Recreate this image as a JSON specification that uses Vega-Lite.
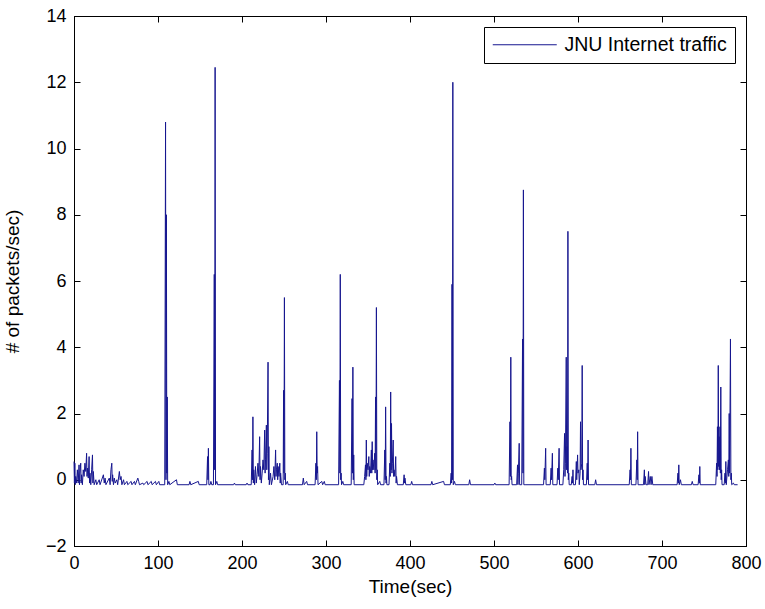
{
  "$schema": "https://vega.github.io/schema/vega-lite/v6.json",
  "width": 672,
  "height": 530,
  "autosize": {"type": "none"},
  "padding": {"left": 74, "top": 16, "right": 19, "bottom": 63},
  "background": "white",
  "config": {
    "view": {"stroke": "black", "strokeWidth": 1},
    "axis": {
      "grid": false,
      "domainColor": "black",
      "domainWidth": 1,
      "tickColor": "black",
      "tickWidth": 1,
      "tickSize": -6,
      "labelPadding": 14,
      "labelFlush": false,
      "labelColor": "black",
      "titleColor": "black",
      "labelFont": "Liberation Sans",
      "titleFont": "Liberation Sans",
      "labelFontSize": 18,
      "titleFontSize": 19,
      "titleFontWeight": "normal"
    }
  },
  "layer": [
    {
      "data": {"values": [
        {"t":0,"v":0.55},{"t":0.5,"v":-0.1},{"t":1,"v":0.5},{"t":1.5,"v":-0.15},{"t":2,"v":0.1},{"t":3,"v":-0.1},{"t":4,"v":0.3},{"t":5,"v":-0.1},{"t":6,"v":0.45},{"t":6.5,"v":-0.15},{"t":7,"v":0.2},{"t":8,"v":0.5},{"t":8.5,"v":-0.1},{"t":9,"v":0.15},{"t":10,"v":-0.15},{"t":11,"v":0.3},{"t":12,"v":0.1},{"t":13,"v":0.5},{"t":14,"v":0.25},{"t":15,"v":0.8},{"t":15.5,"v":0.1},{"t":16,"v":0.35},{"t":17,"v":0.05},{"t":18,"v":0.7},{"t":18.5,"v":-0.1},{"t":19,"v":0.2},{"t":20,"v":-0.15},{"t":21,"v":0.3},{"t":22,"v":0.75},{"t":22.5,"v":-0.1},{"t":23,"v":0.25},{"t":24,"v":-0.15},{"t":26,"v":0.0},{"t":27,"v":-0.15},{"t":30,"v":0.0},{"t":31,"v":-0.15},{"t":35,"v":0.15},{"t":36,"v":-0.1},{"t":37,"v":0.05},{"t":38,"v":-0.15},{"t":42,"v":0.05},{"t":43,"v":-0.15},{"t":44,"v":0.3},{"t":45,"v":0.5},{"t":45.5,"v":-0.05},{"t":46,"v":0.15},{"t":47,"v":-0.15},{"t":48,"v":0.05},{"t":49,"v":-0.1},{"t":51,"v":0.0},{"t":52,"v":-0.15},{"t":54,"v":0.25},{"t":55,"v":0.0},{"t":56,"v":0.1},{"t":57,"v":-0.15},{"t":59,"v":0.0},{"t":60,"v":-0.15},{"t":63,"v":-0.05},{"t":64,"v":-0.15},{"t":68,"v":-0.05},{"t":69,"v":-0.15},{"t":72,"v":-0.05},{"t":73,"v":-0.15},{"t":76,"v":0.05},{"t":77,"v":-0.05},{"t":78,"v":-0.15},{"t":82,"v":-0.1},{"t":83,"v":-0.15},{"t":87,"v":-0.05},{"t":88,"v":-0.15},{"t":92,"v":-0.05},{"t":93,"v":-0.15},{"t":97,"v":-0.05},{"t":98,"v":-0.15},{"t":101,"v":-0.05},{"t":102,"v":-0.15},
        {"t":108,"v":-0.15},{"t":109,"v":10.8},{"t":109.5,"v":0.0},{"t":110,"v":8.0},{"t":110.5,"v":0.2},{"t":111,"v":2.5},{"t":111.5,"v":-0.15},{"t":113,"v":-0.05},{"t":114,"v":-0.15},{"t":122,"v":0.0},{"t":123,"v":-0.15},{"t":137,"v":-0.15},{"t":138,"v":-0.05},{"t":139,"v":-0.15},{"t":148,"v":-0.05},{"t":149,"v":-0.15},
        {"t":158,"v":-0.15},{"t":159,"v":0.7},{"t":159.5,"v":0.0},{"t":160,"v":0.95},{"t":160.5,"v":-0.15},{"t":162,"v":-0.15},{"t":163,"v":-0.05},{"t":164,"v":-0.15},{"t":166,"v":-0.15},{"t":167,"v":6.2},{"t":167.5,"v":0.3},{"t":168,"v":12.45},{"t":168.5,"v":-0.15},{"t":170,"v":-0.05},{"t":171,"v":-0.15},{"t":190,"v":-0.15},{"t":191,"v":-0.1},{"t":192,"v":-0.15},{"t":205,"v":-0.15},{"t":206,"v":-0.1},{"t":207,"v":-0.15},
        {"t":211,"v":-0.15},{"t":212,"v":0.9},{"t":212.5,"v":0.0},{"t":213,"v":1.9},{"t":213.5,"v":-0.1},{"t":214,"v":0.3},{"t":215,"v":-0.15},{"t":216,"v":0.4},{"t":217,"v":-0.1},{"t":218,"v":0.15},{"t":219,"v":0.5},{"t":220,"v":0.1},{"t":221,"v":1.3},{"t":221.5,"v":0.0},{"t":222,"v":0.4},{"t":223,"v":-0.1},{"t":224,"v":0.2},{"t":225,"v":0.6},{"t":226,"v":0.3},{"t":227,"v":1.5},{"t":227.5,"v":0.2},{"t":228,"v":0.6},{"t":229,"v":1.65},{"t":229.5,"v":0.3},{"t":230,"v":0.8},{"t":231,"v":3.55},{"t":231.5,"v":0.0},{"t":232,"v":1.0},{"t":232.5,"v":-0.15},{"t":234,"v":0.2},{"t":235,"v":-0.15},{"t":237,"v":0.1},{"t":238,"v":0.4},{"t":239,"v":0.0},{"t":240,"v":0.9},{"t":240.5,"v":0.1},{"t":241,"v":0.3},{"t":242,"v":0.5},{"t":242.5,"v":0.0},{"t":243,"v":0.4},{"t":244,"v":0.1},{"t":245,"v":0.5},{"t":245.5,"v":-0.1},{"t":246,"v":0.2},{"t":247,"v":-0.15},{"t":249,"v":-0.15},{"t":249.5,"v":2.7},{"t":250,"v":0.2},{"t":250.5,"v":5.5},{"t":251,"v":0.0},{"t":251.5,"v":0.2},{"t":252,"v":-0.15},{"t":254,"v":-0.05},{"t":255,"v":-0.15},
        {"t":272,"v":-0.15},{"t":273,"v":0.05},{"t":274,"v":-0.15},{"t":277,"v":-0.05},{"t":278,"v":-0.15},{"t":287,"v":-0.15},{"t":288,"v":0.5},{"t":288.5,"v":0.0},{"t":289,"v":1.45},{"t":289.5,"v":0.2},{"t":290,"v":0.4},{"t":290.5,"v":-0.15},{"t":295,"v":-0.05},{"t":296,"v":-0.15},{"t":298,"v":-0.05},{"t":299,"v":-0.15},
        {"t":315,"v":-0.15},{"t":316,"v":3.0},{"t":316.5,"v":0.2},{"t":317,"v":6.2},{"t":317.5,"v":0.0},{"t":318,"v":0.2},{"t":318.5,"v":-0.15},{"t":320,"v":-0.05},{"t":321,"v":-0.15},{"t":330,"v":-0.15},{"t":331,"v":2.45},{"t":331.5,"v":0.2},{"t":332,"v":3.4},{"t":332.5,"v":0.0},{"t":333,"v":0.75},{"t":333.5,"v":-0.15},
        {"t":345,"v":-0.15},{"t":346,"v":0.1},{"t":347,"v":0.45},{"t":347.5,"v":0.0},{"t":348,"v":1.2},{"t":348.5,"v":0.1},{"t":349,"v":0.5},{"t":350,"v":0.3},{"t":351,"v":0.7},{"t":351.5,"v":0.1},{"t":352,"v":0.4},{"t":353,"v":0.2},{"t":354,"v":0.9},{"t":354.5,"v":0.2},{"t":355,"v":1.15},{"t":355.5,"v":0.3},{"t":356,"v":0.6},{"t":357,"v":0.3},{"t":358,"v":0.8},{"t":358.5,"v":0.2},{"t":359,"v":2.5},{"t":359.5,"v":0.3},{"t":360,"v":5.2},{"t":360.5,"v":0.0},{"t":361,"v":0.3},{"t":361.5,"v":-0.15},{"t":364,"v":-0.05},{"t":365,"v":-0.15},{"t":369,"v":-0.15},{"t":370,"v":0.9},{"t":370.5,"v":0.0},{"t":371,"v":2.2},{"t":371.5,"v":-0.1},{"t":372,"v":0.1},{"t":372.5,"v":-0.15},{"t":375,"v":-0.15},{"t":376,"v":0.5},{"t":376.5,"v":0.1},{"t":377,"v":2.65},{"t":377.5,"v":0.3},{"t":378,"v":1.7},{"t":378.5,"v":0.2},{"t":379,"v":0.5},{"t":380,"v":1.2},{"t":380.5,"v":0.1},{"t":381,"v":0.3},{"t":382,"v":0.1},{"t":383,"v":0.7},{"t":383.5,"v":-0.1},{"t":384,"v":0.1},{"t":385,"v":-0.15},{"t":392,"v":-0.15},{"t":393,"v":0.15},{"t":393.5,"v":-0.1},{"t":394,"v":0.05},{"t":395,"v":-0.15},{"t":401,"v":-0.15},{"t":402,"v":-0.05},{"t":403,"v":-0.15},
        {"t":425,"v":-0.15},{"t":426,"v":-0.05},{"t":427,"v":-0.15},{"t":440,"v":-0.05},{"t":441,"v":-0.15},{"t":448,"v":-0.15},{"t":449,"v":0.2},{"t":449.5,"v":-0.1},{"t":450,"v":5.9},{"t":450.5,"v":0.0},{"t":451,"v":12.0},{"t":451.5,"v":-0.15},{"t":453,"v":-0.05},{"t":454,"v":-0.15},{"t":470,"v":-0.15},{"t":471,"v":0.0},{"t":472,"v":-0.15},{"t":500,"v":-0.15},{"t":501,"v":-0.1},{"t":502,"v":-0.15},
        {"t":518,"v":-0.15},{"t":519,"v":1.75},{"t":519.5,"v":0.1},{"t":520,"v":3.7},{"t":520.5,"v":0.0},{"t":521,"v":0.1},{"t":521.5,"v":-0.15},{"t":527,"v":-0.15},{"t":528,"v":0.45},{"t":528.5,"v":-0.15},{"t":529,"v":0.2},{"t":530,"v":1.1},{"t":530.5,"v":-0.15},{"t":533,"v":-0.15},{"t":534,"v":4.25},{"t":534.5,"v":0.2},{"t":535,"v":8.75},{"t":535.5,"v":-0.15},{"t":537,"v":-0.15},
        {"t":559,"v":-0.15},{"t":560,"v":0.35},{"t":560.5,"v":0.0},{"t":561.5,"v":0.95},{"t":562,"v":-0.15},{"t":567,"v":-0.15},{"t":568,"v":0.35},{"t":568.5,"v":0.0},{"t":569.5,"v":0.8},{"t":570,"v":-0.15},{"t":575,"v":-0.15},{"t":576,"v":0.35},{"t":576.5,"v":0.0},{"t":577.5,"v":0.95},{"t":578,"v":-0.15},{"t":582,"v":-0.15},{"t":583,"v":0.3},{"t":584,"v":1.4},{"t":584.5,"v":0.1},{"t":585,"v":0.5},{"t":586,"v":3.7},{"t":586.5,"v":0.3},{"t":587,"v":1.0},{"t":587.5,"v":0.2},{"t":588,"v":7.5},{"t":588.5,"v":0.0},{"t":589,"v":0.2},{"t":589.5,"v":-0.15},{"t":592,"v":-0.15},{"t":593,"v":0.1},{"t":593.5,"v":-0.1},{"t":594,"v":0.3},{"t":594.5,"v":-0.15},{"t":597,"v":-0.15},{"t":598,"v":0.55},{"t":598.5,"v":0.0},{"t":599.5,"v":0.75},{"t":600,"v":0.2},{"t":601,"v":0.3},{"t":601.5,"v":-0.15},{"t":602.5,"v":0.2},{"t":603,"v":1.75},{"t":603.5,"v":0.3},{"t":604.5,"v":0.5},{"t":605,"v":3.45},{"t":605.5,"v":0.0},{"t":606,"v":0.3},{"t":606.5,"v":-0.15},{"t":610,"v":-0.15},{"t":611,"v":0.5},{"t":611.5,"v":0.0},{"t":612,"v":1.2},{"t":612.5,"v":-0.15},{"t":620,"v":-0.15},{"t":621,"v":0.0},{"t":622,"v":-0.15},
        {"t":661,"v":-0.15},{"t":662,"v":0.3},{"t":662.5,"v":0.0},{"t":663,"v":0.95},{"t":663.5,"v":-0.15},{"t":669,"v":-0.15},{"t":670,"v":0.6},{"t":670.5,"v":0.0},{"t":671,"v":1.45},{"t":671.5,"v":-0.15},{"t":678,"v":-0.15},{"t":679,"v":0.3},{"t":679.5,"v":-0.15},{"t":680,"v":0.1},{"t":681,"v":-0.15},{"t":683,"v":-0.15},{"t":684,"v":0.25},{"t":684.5,"v":-0.15},{"t":686,"v":0.1},{"t":687,"v":-0.15},{"t":688,"v":0.1},{"t":689,"v":-0.15},
        {"t":718,"v":-0.15},{"t":719,"v":0.2},{"t":719.5,"v":-0.1},{"t":720,"v":0.45},{"t":720.5,"v":-0.15},{"t":722,"v":0.0},{"t":723,"v":-0.15},{"t":735,"v":-0.15},{"t":736,"v":-0.05},{"t":737,"v":-0.15},{"t":743,"v":-0.15},{"t":744,"v":0.15},{"t":744.5,"v":-0.1},{"t":745,"v":0.4},{"t":745.5,"v":-0.15},
        {"t":764,"v":-0.15},{"t":765,"v":0.5},{"t":765.5,"v":0.1},{"t":766,"v":1.6},{"t":766.5,"v":0.3},{"t":767,"v":3.45},{"t":767.5,"v":0.4},{"t":768,"v":1.3},{"t":768.5,"v":0.3},{"t":769,"v":1.6},{"t":769.5,"v":0.2},{"t":770,"v":2.8},{"t":770.5,"v":0.0},{"t":771,"v":0.3},{"t":771.5,"v":-0.15},{"t":774,"v":-0.15},{"t":775,"v":0.2},{"t":775.5,"v":-0.1},{"t":776,"v":0.55},{"t":776.5,"v":-0.15},{"t":778,"v":0.3},{"t":779,"v":0.6},{"t":779.5,"v":0.1},{"t":780,"v":2.0},{"t":780.5,"v":0.2},{"t":781.5,"v":4.25},{"t":782,"v":0.0},{"t":782.5,"v":0.2},{"t":783,"v":-0.15},{"t":785,"v":-0.1},{"t":786,"v":-0.15},{"t":790,"v":-0.15}
      ]},
      "mark": {"type": "line", "strokeWidth": 1, "interpolate": "linear"},
      "encoding": {
        "x": {
          "field": "t", "type": "quantitative",
          "scale": {"domain": [0, 800], "nice": false, "zero": false},
          "axis": {"values": [0,100,200,300,400,500,600,700,800], "title": "Time(sec)", "titlePadding": 5}
        },
        "y": {
          "field": "v", "type": "quantitative",
          "scale": {"domain": [-2, 14], "nice": false, "zero": false},
          "axis": {"values": [-2,0,2,4,6,8,10,12,14], "title": "# of packets/sec)", "titlePadding": 23}
        },
        "color": {
          "datum": "JNU Internet traffic",
          "scale": {"range": ["#16168f"]},
          "legend": {
            "title": null,
            "orient": "none",
            "legendX": 410,
            "legendY": 11,
            "strokeColor": "black",
            "fillColor": "white",
            "padding": 8,
            "symbolType": "M-2.25,0H13.75",
            "symbolSize": 64,
            "symbolStrokeWidth": 1,
            "labelOffset": 53,
            "labelLimit": 400,
            "labelFont": "Liberation Sans",
            "labelFontSize": 19.5,
            "labelColor": "black"
          }
        }
      }
    },
    {
      "data": {"values": [{"t": 0, "v": -2}]},
      "mark": {"type": "point", "opacity": 0},
      "encoding": {
        "x": {"field": "t", "type": "quantitative", "axis": {"orient": "top", "labels": false, "title": null, "values": [0,100,200,300,400,500,600,700,800]}},
        "y": {"field": "v", "type": "quantitative", "axis": {"orient": "right", "labels": false, "title": null, "values": [-2,0,2,4,6,8,10,12,14]}}
      }
    }
  ],
  "resolve": {"axis": {"x": "independent", "y": "independent"}}
}
